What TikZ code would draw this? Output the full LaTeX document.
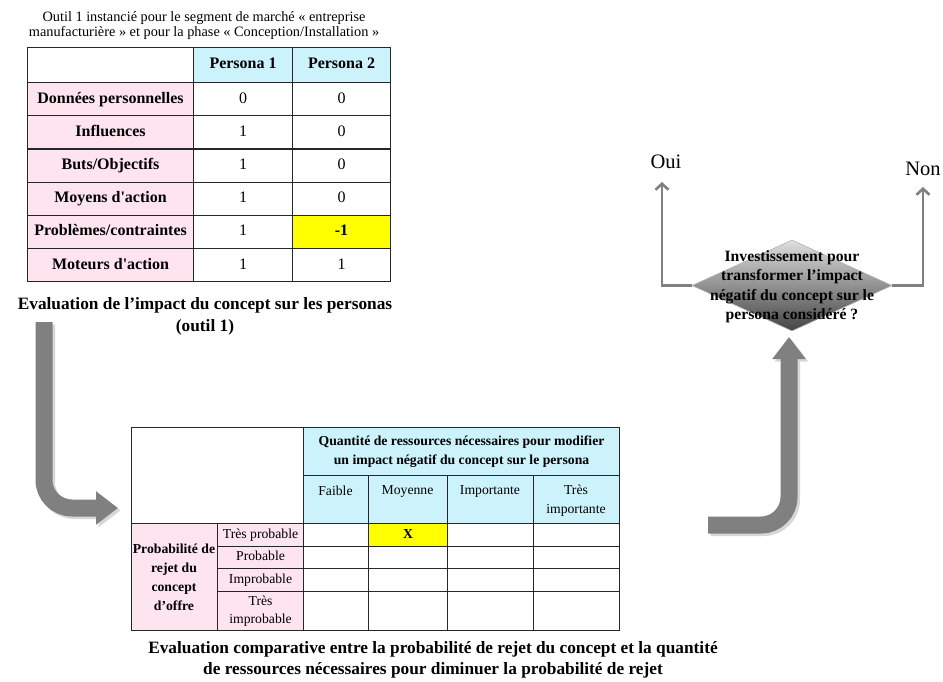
\documentclass[tikz,border=0pt]{standalone}
\usepackage{fontspec}
\setmainfont{Liberation Serif}
\usetikzlibrary{arrows.meta,shapes.geometric,shadings}
\definecolor{pinkc}{RGB}{253,228,238}
\definecolor{cyanc}{RGB}{204,242,252}
\definecolor{yel}{RGB}{255,255,0}
\definecolor{arrowgray}{RGB}{128,128,128}
\definecolor{shadowgray}{RGB}{215,215,215}
\begin{document}
\begin{tikzpicture}[x=1pt,y=-1pt,
  cell/.style={draw=black!85, line width=1.1pt, inner sep=0pt, anchor=north west, align=center},
  ttxt/.style={font=\fontsize{16}{18}\selectfont, text height=11.2pt, text depth=3.4pt},
  btxt/.style={font=\fontsize{16}{18}\selectfont\bfseries, text height=11.2pt, text depth=3.4pt},
  stxt/.style={font=\fontsize{13.7}{19}\selectfont, align=center},
  s1txt/.style={font=\fontsize{13.7}{19}\selectfont, text height=9.6pt, text depth=2.9pt},
  sbtxt/.style={font=\fontsize{13.7}{19}\selectfont\bfseries, align=center},
  captxt/.style={font=\fontsize{17.3}{22}\selectfont\bfseries, align=center},
  bigarrow/.style={draw=arrowgray, line width=17pt, rounded corners=28pt, -{Triangle[length=22pt,width=32pt]}},
  bigshadow/.style={draw=shadowgray, line width=17pt, rounded corners=28pt, -{Triangle[length=22pt,width=32pt]}},
  thinarrow/.style={draw=arrowgray, line width=2.6pt, -{Straight Barb[length=6pt,width=13pt]}},
]
\useasboundingbox (0,0) rectangle (943,681);
\fill[white] (0,0) rectangle (943,681);

% ---------- top title ----------
\node[font=\fontsize{14.3}{15}\selectfont, align=center] (title) at (204,25.5)
  {Outil 1 instancié pour le segment de marché « entreprise\\manufacturière » et pour la phase « Conception/Installation »};

% ---------- top table ----------
\node[cell, minimum width=166pt, minimum height=35pt] (h0) at (27,47) {};
\node[cell, fill=cyanc, minimum width=99pt, minimum height=35pt, btxt] (h1) at (193,47) {Persona 1};
\node[cell, fill=cyanc, minimum width=98pt, minimum height=35pt, btxt] (h2) at (292,47) {Persona 2};

\node[cell, fill=pinkc, minimum width=166pt, minimum height=33.2pt, btxt] (r1) at (27,82) {Données personnelles};
\node[cell, minimum width=99pt, minimum height=33.2pt, ttxt] (r1a) at (193,82) {0};
\node[cell, minimum width=98pt, minimum height=33.2pt, ttxt] (r1b) at (292,82) {0};

\node[cell, fill=pinkc, minimum width=166pt, minimum height=33.2pt, btxt] (r2) at (27,115.2) {Influences};
\node[cell, minimum width=99pt, minimum height=33.2pt, ttxt] (r2a) at (193,115.2) {1};
\node[cell, minimum width=98pt, minimum height=33.2pt, ttxt] (r2b) at (292,115.2) {0};

\node[cell, fill=pinkc, minimum width=166pt, minimum height=33.2pt, btxt] (r3) at (27,148.4) {Buts/Objectifs};
\node[cell, minimum width=99pt, minimum height=33.2pt, ttxt] (r3a) at (193,148.4) {1};
\node[cell, minimum width=98pt, minimum height=33.2pt, ttxt] (r3b) at (292,148.4) {0};

\node[cell, fill=pinkc, minimum width=166pt, minimum height=33.2pt, btxt] (r4) at (27,181.6) {Moyens d\textquotesingle action};
\node[cell, minimum width=99pt, minimum height=33.2pt, ttxt] (r4a) at (193,181.6) {1};
\node[cell, minimum width=98pt, minimum height=33.2pt, ttxt] (r4b) at (292,181.6) {0};

\node[cell, fill=pinkc, minimum width=166pt, minimum height=33.2pt, btxt] (r5) at (27,214.8) {Problèmes/contraintes};
\node[cell, minimum width=99pt, minimum height=33.2pt, ttxt] (r5a) at (193,214.8) {1};
\node[cell, fill=yel, minimum width=98pt, minimum height=33.2pt, btxt] (r5b) at (292,214.8) {-1};

\node[cell, fill=pinkc, minimum width=166pt, minimum height=33.2pt, btxt] (r6) at (27,248) {Moteurs d\textquotesingle action};
\node[cell, minimum width=99pt, minimum height=33.2pt, ttxt] (r6a) at (193,248) {1};
\node[cell, minimum width=98pt, minimum height=33.2pt, ttxt] (r6b) at (292,248) {1};

\node[captxt] (cap1) at (205,316.5) {Evaluation de l’impact du concept sur les personas\\(outil 1)};

% ---------- bottom table ----------
\node[cell, minimum width=172pt, minimum height=96pt] (b0) at (131,427) {};
\node[cell, fill=cyanc, minimum width=316pt, minimum height=48pt, sbtxt] (bq) at (303,427)
  {Quantité de ressources nécessaires pour modifier\\un impact négatif du concept sur le persona};
\node[cell, fill=cyanc, minimum width=65pt, minimum height=48pt] (c1) at (303,475) {};
\node[cell, fill=cyanc, minimum width=79pt, minimum height=48pt] (c2) at (368,475) {};
\node[cell, fill=cyanc, minimum width=86pt, minimum height=48pt] (c3) at (447,475) {};
\node[cell, fill=cyanc, minimum width=86pt, minimum height=48pt] (c4) at (533,475) {};
\node[stxt] (c1t) at (335.5,491) {Faible};
\node[stxt] (c2t) at (407.5,491) {Moyenne};
\node[stxt] (c3t) at (490,491) {Importante};
\node[stxt] (c4t) at (576,500.5) {Très\\importante};

\node[cell, fill=pinkc, minimum width=86pt, minimum height=107pt] (pl) at (131,523) {};
\node[sbtxt] (plt) at (174,577) {Probabilité de\\rejet du\\concept\\d’offre};

\node[cell, fill=pinkc, minimum width=86pt, minimum height=23pt, s1txt] (p1) at (217,523) {Très probable};
\node[cell, fill=pinkc, minimum width=86pt, minimum height=22pt, s1txt] (p2) at (217,546) {Probable};
\node[cell, fill=pinkc, minimum width=86pt, minimum height=23pt, s1txt] (p3) at (217,568) {Improbable};
\node[cell, fill=pinkc, minimum width=86pt, minimum height=39pt, font=\fontsize{13.7}{18}\selectfont] (p4) at (217,591) {Très\\improbable};

% data cells
\node[cell, minimum width=65pt, minimum height=23pt] (d11) at (303,523) {};
\node[cell, fill=yel, minimum width=79pt, minimum height=23pt, font=\fontsize{13.7}{19}\selectfont\bfseries, text height=9.6pt, text depth=2.9pt] (d12) at (368,523) {X};
\node[cell, minimum width=86pt, minimum height=23pt] (d13) at (447,523) {};
\node[cell, minimum width=86pt, minimum height=23pt] (d14) at (533,523) {};
\node[cell, minimum width=65pt, minimum height=22pt] (d21) at (303,546) {};
\node[cell, minimum width=79pt, minimum height=22pt] (d22) at (368,546) {};
\node[cell, minimum width=86pt, minimum height=22pt] (d23) at (447,546) {};
\node[cell, minimum width=86pt, minimum height=22pt] (d24) at (533,546) {};
\node[cell, minimum width=65pt, minimum height=23pt] (d31) at (303,568) {};
\node[cell, minimum width=79pt, minimum height=23pt] (d32) at (368,568) {};
\node[cell, minimum width=86pt, minimum height=23pt] (d33) at (447,568) {};
\node[cell, minimum width=86pt, minimum height=23pt] (d34) at (533,568) {};
\node[cell, minimum width=65pt, minimum height=39pt] (d41) at (303,591) {};
\node[cell, minimum width=79pt, minimum height=39pt] (d42) at (368,591) {};
\node[cell, minimum width=86pt, minimum height=39pt] (d43) at (447,591) {};
\node[cell, minimum width=86pt, minimum height=39pt] (d44) at (533,591) {};

\node[captxt, font=\fontsize{17.3}{21}\selectfont\bfseries] (cap2) at (433,659.5)
  {Evaluation comparative entre la probabilité de rejet du concept et la quantité\\de ressources nécessaires pour diminuer la probabilité de rejet};

% ---------- diamond ----------
\node[diamond, minimum width=200pt, minimum height=91pt, inner sep=0pt, draw=gray!60, line width=0.6pt,
  top color={rgb,255:red,222;green,222;blue,222}, bottom color={rgb,255:red,68;green,68;blue,68}] (dia) at (792,285.5) {};
\node[font=\fontsize{15.7}{19.5}\selectfont\bfseries, align=center] (diat) at (792,286.5)
  {Investissement pour\\transformer l’impact\\négatif du concept sur le\\persona considéré ?};

\node[font=\fontsize{20.5}{22}\selectfont] (oui) at (666,162) {Oui};
\node[font=\fontsize{20.5}{22}\selectfont] (non) at (923,169) {Non};

\coordinate (ouiend) at (662,182);
\coordinate (nonend) at (923,187);
\draw[thinarrow] (dia.west) -- (662,285.5) -- (ouiend);
\draw[thinarrow] (dia.east) -- (923,285.5) -- (nonend);

% ---------- big arrows ----------
\coordinate (la0) at (44,322);
\coordinate (la1) at (44,508);
\coordinate (la2) at (118,508);
\draw[bigshadow] ([shift={(2.5,2.5)}]la0) -- ([shift={(2.5,2.5)}]la1) -- ([shift={(2.5,2.5)}]la2);
\draw[bigarrow] (la0) -- (la1) -- (la2);

\coordinate (ra0) at (708,525);
\coordinate (ra1) at (789,525);
\coordinate (ra2) at (789,337);
\draw[bigshadow] ([shift={(2.5,2.5)}]ra0) -- ([shift={(2.5,2.5)}]ra1) -- ([shift={(2.5,2.5)}]ra2);
\draw[bigarrow] (ra0) -- (ra1) -- (ra2);
\end{tikzpicture}
\end{document}
